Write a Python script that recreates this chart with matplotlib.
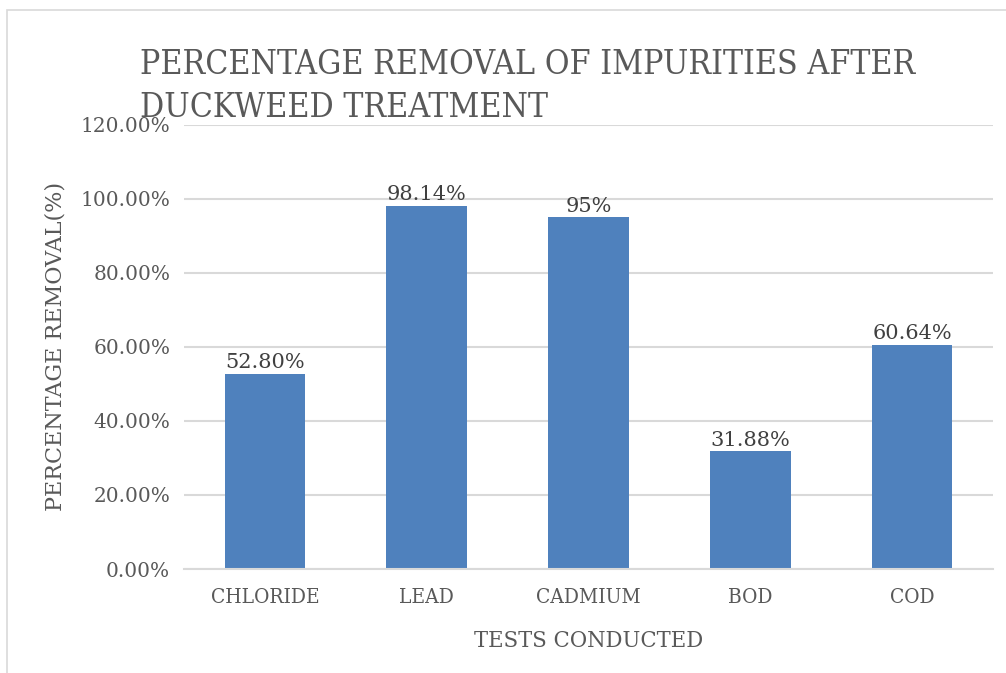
import matplotlib.pyplot as plt
from matplotlib.patches import Rectangle
from matplotlib.ticker import FuncFormatter

tests = ["CHLORIDE", "LEAD", "CADMIUM", "BOD", "COD"]
removal = [52.80, 98.14, 95.0, 31.88, 60.64]
value_labels = ["52.80%", "98.14%", "95%", "31.88%", "60.64%"]

serif = ["DejaVu Serif"]
grey = "#595959"

fig = plt.figure(figsize=(10.06, 6.73), dpi=100)
ax = fig.add_axes([0.183, 0.1545, 0.804, 0.66])

# outer chart border
fig.patches.append(Rectangle((7 / 1006, -0.01), 1.1, 1 - 10 / 673 + 0.01,
                             transform=fig.transFigure, fill=False,
                             edgecolor="#D9D9D9", linewidth=1.2))

bars = ax.bar(tests, removal, width=0.5, color="#4F81BD", zorder=2)
for b, lab in zip(bars, value_labels):
    ax.text(b.get_x() + b.get_width() / 2, b.get_height() + 0.4, lab,
            ha="center", va="bottom", fontsize=15, color="#404040",
            family=serif)

ax.set_ylim(0, 120)
ax.set_xlim(-0.5, 4.5)
ax.set_yticks(range(0, 121, 20))
ax.yaxis.set_major_formatter(FuncFormatter(lambda v, p: f"{v:.2f}%"))
ax.grid(axis="y", color="#D9D9D9", linewidth=1.5, zorder=0)
for s in ["top", "right", "left"]:
    ax.spines[s].set_visible(False)
ax.spines["bottom"].set_color("#D9D9D9")
ax.spines["bottom"].set_linewidth(1.5)
ax.tick_params(length=0)
ax.tick_params(axis="y", labelsize=14.5, labelcolor=grey, pad=10)
ax.tick_params(axis="x", labelsize=15, labelcolor=grey, pad=14)
for t in ax.get_yticklabels():
    t.set_family(serif)
for t in ax.get_xticklabels():
    t.set_family(serif)
    t.set_fontstretch("condensed")

ax.set_xlabel("TESTS CONDUCTED", fontsize=16.9, color=grey, family=serif,
              fontstretch="condensed", labelpad=16)
ax.set_ylabel("PERCENTAGE REMOVAL(%)", fontsize=16, color=grey, family=serif,
              labelpad=10)

# title overlaps the top tick label, as in the original chart
fig.text(140 / 1006, 1 - 49 / 673,
         "PERCENTAGE REMOVAL OF IMPURITIES AFTER\nDUCKWEED TREATMENT",
         ha="left", va="top", fontsize=24.2, color=grey, family=serif,
         fontstretch="condensed", linespacing=1.43)

fig.savefig("out.png", dpi=100)
